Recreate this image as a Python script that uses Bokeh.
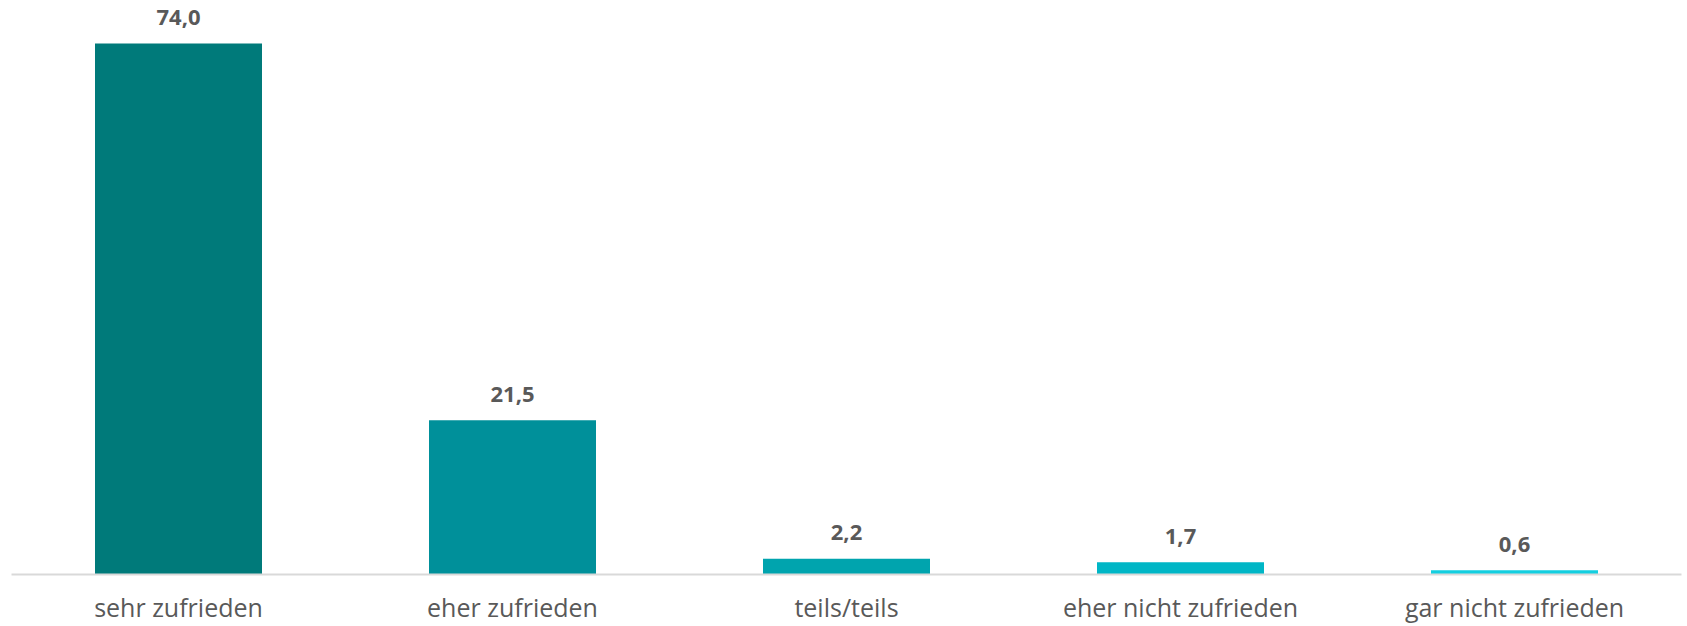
from bokeh.plotting import figure
from bokeh.models import ColumnDataSource, FactorRange, Range1d
from bokeh.core.properties import value
from bokeh.embed import file_html
from bokeh.resources import INLINE

categories = ["sehr zufrieden", "eher zufrieden", "teils/teils",
              "eher nicht zufrieden", "gar nicht zufrieden"]
values = [74.0, 21.5, 2.2, 1.7, 0.6]
labels = ["74,0", "21,5", "2,2", "1,7", "0,6"]
colors = ["#007A7A", "#00909A", "#00A4AE", "#00B6C6", "#14CFE0"]

src = ColumnDataSource(dict(cat=categories, val=values, lab=labels, col=colors))

p = figure(x_range=FactorRange(*categories, range_padding=0),
           y_range=Range1d(0, 80),
           width=1687, height=626, output_backend="svg",
           toolbar_location=None, min_border_left=11, min_border_right=6,
           min_border_top=0, min_border_bottom=0)

p.vbar(x="cat", top="val", width=0.5, fill_color="col", line_color=None, source=src)
p.text(x="cat", y="val", text="lab", source=src, text_align="center",
       text_baseline="alphabetic", y_offset=-26, text_color="#595959",
       text_font=value("Open Sans"), text_font_style="bold", text_font_size="22px")

p.outline_line_color = None
p.xgrid.grid_line_color = None
p.ygrid.grid_line_color = None
p.yaxis.visible = False
p.xaxis.axis_line_color = "#D9D9D9"
p.xaxis.axis_line_width = 2
p.xaxis.major_tick_line_color = None
p.xaxis.minor_tick_line_color = None
p.xaxis.major_tick_out = 0
p.xaxis.major_tick_in = 0
p.xaxis.minor_tick_out = 0
p.xaxis.major_label_text_font = "Open Sans"
p.xaxis.major_label_text_font_size = "25px"
p.xaxis.major_label_text_color = "#595959"
p.xaxis.major_label_standoff = 15
p.background_fill_color = None
p.border_fill_color = "white"

open("out.html", "w").write(file_html(p, INLINE))
